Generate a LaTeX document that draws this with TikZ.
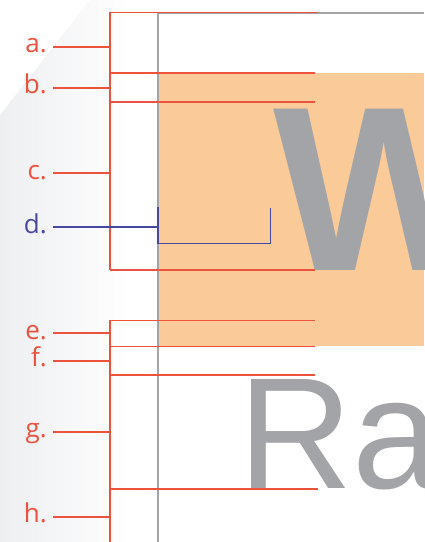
\documentclass[tikz,border=0pt]{standalone}
\usepackage{fontspec}
\setmainfont{Open Sans}
\newfontfamily\arialfont{Liberation Sans}
\usetikzlibrary{calc}
\definecolor{redl}{RGB}{236,82,62}
\definecolor{bluel}{RGB}{72,72,160}
\definecolor{orangebg}{RGB}{250,202,152}
\definecolor{grayl}{RGB}{162,164,167}
\definecolor{bggray}{RGB}{238,239,241}
\tikzset{
  lab/.style={font=\fontsize{26}{28}\selectfont, text=redl, inner sep=0pt, anchor=base east},
  bluelab/.style={lab, text=bluel},
  tickline/.style={draw=redl, line width=2pt},
  frameline/.style={draw=redl, line width=1.6pt},
  guide/.style={draw=grayl, line width=2pt},
  bluebr/.style={draw=bluel, line width=1.6pt}
}
\begin{document}
\begin{tikzpicture}[x=1pt,y=-1pt]
\useasboundingbox (0,0) rectangle (424,542);
\clip (0,0) rectangle (424,542);
% background
\fill[white] (0,0) rectangle (424,542);
\shade[left color=bggray, right color=white] (0,115) -- (90,0) -- (135,0) -- (135,542) -- (0,542) -- cycle;
% orange block
\fill[orangebg] (158.5,72.7) rectangle (424,346);
% big letters
\node[anchor=base west, inner sep=0pt, text=grayl, font=\arialfont\bfseries\fontsize{234.6}{240}\selectfont] (W) at (273,270) {W};
\node[anchor=base west, inner sep=0pt, text=grayl, font=\arialfont\fontsize{158.5}{160}\selectfont] (Ra) at (238,488.5) {Ra};
% gray guides
\coordinate (gtop) at (158,12.3);
\coordinate (gbot) at (158,542);
\coordinate (gright) at (424,12.8);
\draw[guide] (gbot) -- (gtop);
\draw[guide] (158,12.8) -- (gright);
% red frame lines
\coordinate (v1t) at (109.7,12.3);
\coordinate (v1b) at (109.7,269.7);
\coordinate (v2t) at (109.7,320.3);
\coordinate (v2b) at (109.7,542);
\draw[frameline] (v1t) -- (v1b);
\draw[frameline] (v2t) -- (v2b);
\draw[frameline] (v1t) -- (318.3,12.3);
\draw[frameline] (109.7,72.7) -- (315,72.7);
\draw[frameline] (109.7,101.7) -- (315,101.7);
\draw[frameline] (v1b) -- (315,269.7);
\draw[frameline] (v2t) -- (315,320.3);
\draw[frameline] (109.7,346.3) -- (315,346.3);
\draw[frameline] (109.7,374.7) -- (315,374.7);
\draw[frameline] (109.7,488.7) -- (318,488.7);
% labels
\node[lab] (la) at (47,52.7) {a.};
\node[lab] (lb) at (47,93.7) {b.};
\node[lab] (lc) at (47,179.3) {c.};
\node[bluelab] (ld) at (47,233) {d.};
\node[lab] (le) at (47,339.3) {e.};
\node[lab] (lf) at (47,366.7) {f.};
\node[lab] (lg) at (47,437.7) {g.};
\node[lab] (lh) at (47,522.7) {h.};
% ticks
\draw[tickline] (53,46.7) -- (109.7,46.7);
\draw[tickline] (53,87.7) -- (109.7,87.7);
\draw[tickline] (53,173.3) -- (109.7,173.3);
\draw[tickline] (53,333.3) -- (109.7,333.3);
\draw[tickline] (53,360.7) -- (109.7,360.7);
\draw[tickline] (53,431.7) -- (109.7,431.7);
\draw[tickline] (53,516.7) -- (109.7,516.7);
% blue bracket
\coordinate (dl) at (53,227);
\coordinate (dj) at (158,227);
\draw[bluebr] (dl) -- (dj);
\draw[bluebr] (158,207) -- (158,243.3) -- (270.5,243.3) -- (270.5,207.6);
\end{tikzpicture}
\end{document}
